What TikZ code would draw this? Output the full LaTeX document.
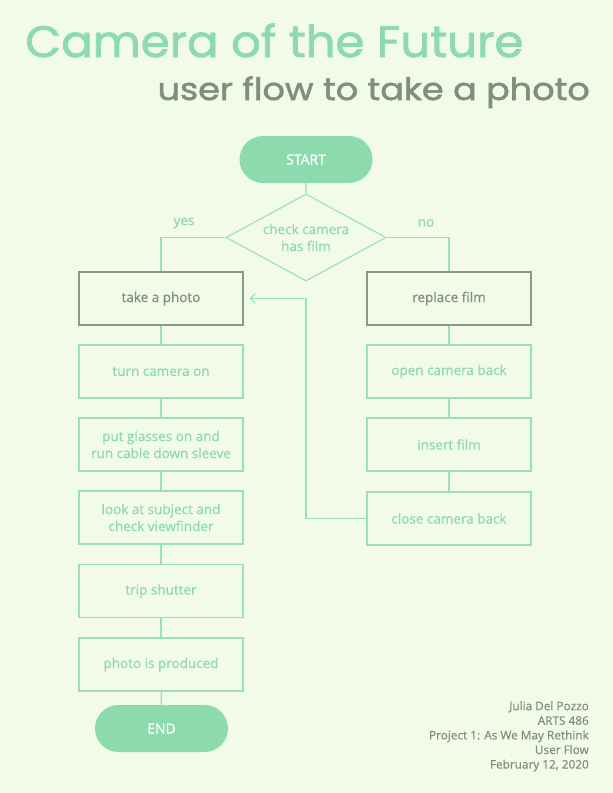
\documentclass[tikz,border=0pt]{standalone}
\usepackage{fontspec}
\setmainfont{Open Sans}
\newfontfamily\titlefont[FakeBold=1.6]{Poppins}
\newfontfamily\boxfont[FakeBold=0.6]{Open Sans}
\usetikzlibrary{shapes.geometric,shapes.misc,arrows.meta}
\definecolor{bgc}{HTML}{F1FBE8}
\definecolor{mint}{HTML}{8DDAAD}
\definecolor{mintline}{HTML}{9ADFB8}
\definecolor{greyt}{HTML}{7D907D}
\definecolor{greyb}{HTML}{8A9A8A}
\tikzset{
  pill/.style={rounded rectangle, fill=mint, text=white, minimum width=133pt, minimum height=47pt, font=\boxfont\fontsize{14}{16}\selectfont, inner sep=0pt},
  stepbox/.style={rectangle, draw=mintline, line width=1.1pt, text=mint, minimum width=164pt, minimum height=53pt, align=center, font=\boxfont\fontsize{13.5}{17}\selectfont, inner sep=0pt},
  keybox/.style={stepbox, draw=greyb, text=greyt},
  decision/.style={diamond, draw=mintline, line width=1.1pt, text=mint, minimum width=160pt, minimum height=87pt, aspect=1.84, align=center, font=\boxfont\fontsize{13.5}{17}\selectfont, inner sep=0pt},
  link/.style={draw=mintline, line width=1.1pt},
  lbl/.style={text=mint, font=\boxfont\fontsize{13.5}{15}\selectfont},
}
\begin{document}
\begin{tikzpicture}[x=1pt,y=-1pt]
\fill[bgc] (0,0) rectangle (613,793);
\useasboundingbox (0,0) rectangle (613,793);
\node[anchor=base west, text=mint, inner sep=0pt, font=\titlefont\fontsize{44}{50}\selectfont] (title) at (25,57) {\scalebox{1.06}[1]{Camera of the Future}};
\node[anchor=base east, text=greyt, inner sep=0pt, font=\titlefont\fontsize{31}{36}\selectfont] (subtitle) at (590,100) {\scalebox{1.13}[1]{user flow to take a photo}};

\node[pill] (start) at (306,159.5) {START};
\node[decision] (check) at (306,237.5) {check camera\\has film};

\node[keybox] (take) at (161,298.5) {take a photo};
\node[stepbox] (on) at (161,371.5) {turn camera on};
\node[stepbox] (glasses) at (161,444.5) {put glasses on and\\run cable down sleeve};
\node[stepbox] (look) at (161,517.5) {look at subject and\\check viewfinder};
\node[stepbox] (trip) at (161,591) {trip shutter};
\node[stepbox] (produced) at (161,664.5) {photo is produced};
\node[pill] (end) at (161.5,728.5) {END};

\node[keybox] (replace) at (449,298.5) {replace film};
\node[stepbox] (open) at (449,371.5) {open camera back};
\node[stepbox] (insert) at (449,444.5) {insert film};
\node[stepbox] (close) at (449,518.5) {close camera back};

\draw[link] (start) -- (check);
\draw[link] (check.west) -| (take.north);
\draw[link] (check.east) -| (replace.north);
\node[lbl] (yes) at (184,223) {yes};
\node[lbl] (no) at (426,223) {no};

\draw[link] (take) -- (on);
\draw[link] (on) -- (glasses);
\draw[link] (glasses) -- (look);
\draw[link] (look) -- (trip);
\draw[link] (trip) -- (produced);
\draw[link] (produced) -- (end);

\draw[link] (replace) -- (open);
\draw[link] (open) -- (insert);
\draw[link] (insert) -- (close);

\coordinate (bend) at (306,298.5);
\draw[link, -{Straight Barb[length=5pt,width=10pt]}, shorten >=6pt] (close.west) -| (bend) -- (take.east);

\node[anchor=north east, align=right, text=greyt, inner sep=0pt, font=\boxfont\fontsize{11.8}{14.6}\selectfont] (credits) at (589,701) {Julia Del Pozzo\\ARTS 486\\Project 1: As We May Rethink\\User Flow\\February 12, 2020};
\end{tikzpicture}
\end{document}
